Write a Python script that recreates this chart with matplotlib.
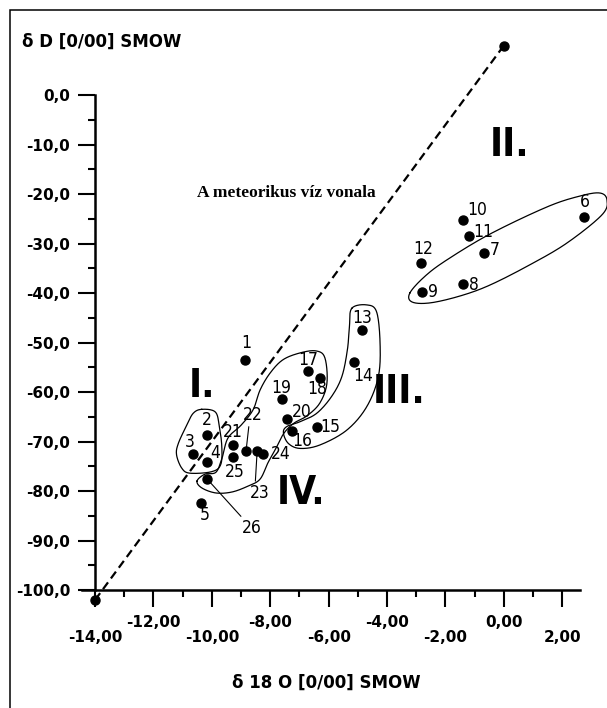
import numpy as np
import matplotlib.pyplot as plt
from matplotlib.ticker import FixedLocator

# sample data: delta 18O and delta D (per mil, SMOW)
sample_id = [str(i) for i in range(1, 27)]
d18o = [-8.86, -10.16, -10.65, -10.16, -10.37, 2.74, -0.68, -1.40, -2.80, -1.40,
        -1.20, -2.84, -4.86, -5.13, -6.40, -7.26, -6.71, -6.30, -7.60, -7.43,
        -9.28, -8.83, -8.45, -8.25, -9.28, -10.16]
dD = [-53.5, -68.7, -72.5, -74.1, -82.4, -24.6, -31.9, -38.2, -39.8, -25.3,
      -28.5, -33.9, -47.5, -53.9, -67.1, -67.9, -55.8, -57.2, -61.4, -65.5,
      -70.7, -71.9, -71.9, -72.5, -73.1, -77.6]

# meteoric water line end points
mwl_x = [-14.0, 0.0]
mwl_y = [-102.0, 10.0]

# hand drawn group outlines (d18O, dD)
group_I = [(-10.35, -63.5), (-9.89, -64.0), (-9.75, -66.7), (-9.66, -71.1), (-9.70, -74.7),
           (-10.01, -76.1), (-10.75, -76.4), (-11.03, -75.4), (-11.21, -72.7), (-11.15, -70.4),
           (-10.86, -66.7), (-10.64, -64.3)]
group_II = [(-3.22, -40.0), (-2.70, -36.6), (-1.95, -33.3), (-0.48, -28.1), (1.48, -22.6),
            (2.61, -20.4), (3.29, -19.8), (3.53, -21.2), (3.36, -24.2), (2.16, -29.9),
            (0.89, -34.3), (-0.48, -38.4), (-1.50, -40.6), (-2.53, -42.0), (-3.15, -41.8)]
group_III = [(-5.21, -43.1), (-4.70, -42.4), (-4.36, -43.8), (-4.24, -50.2), (-4.30, -56.9),
             (-4.70, -63.0), (-5.38, -67.7), (-6.30, -70.7), (-6.98, -71.4), (-7.38, -70.4),
             (-7.55, -68.3), (-7.44, -67.0), (-6.98, -66.0), (-6.41, -64.3), (-5.90, -60.9),
             (-5.55, -56.9), (-5.36, -51.5), (-5.29, -46.8)]
group_IV = [(-10.51, -78.0), (-10.34, -79.4), (-9.86, -80.4), (-9.31, -80.2), (-8.76, -79.0),
            (-8.35, -77.6), (-8.08, -74.3), (-7.80, -71.3), (-7.53, -68.3), (-7.19, -66.3),
            (-6.74, -64.8), (-6.30, -62.2), (-6.06, -58.2), (-6.13, -53.1), (-6.43, -51.7),
            (-6.98, -52.1), (-7.57, -53.5), (-8.01, -56.2), (-8.35, -59.6), (-8.59, -63.6),
            (-9.00, -66.7), (-9.45, -69.3), (-9.65, -73.3), (-9.86, -76.2), (-10.24, -76.6)]

group_names = ["I.", "II.", "III.", "IV."]
group_label_x = [-10.35, 0.21, -3.59, -6.96]
group_label_y = [-58.8, -10.1, -60.0, -80.5]

# label offsets in pixels (dx, dy)
offsets = {'1': (1, 17), '2': (0, 15), '3': (-3, 12), '4': (8, 9), '5': (4, -12),
           '6': (1, 15), '7': (11, 3), '8': (11, -1), '9': (11, 0), '10': (14, 10),
           '11': (14, 4), '12': (2, 14), '13': (0, 12), '14': (9, -14), '15': (13, 0),
           '16': (10, -10), '17': (0, 11), '18': (-3, -11), '19': (-1, 11), '20': (15, 7),
           '21': (0, 13), '22': (7, 36), '23': (3, -42), '24': (18, 0), '25': (2, -15),
           '26': (45, -49)}
leaders = {'22': (0.3, 0.0), '23': (0.25, 1.0), '26': (0.1, 0.95)}


def smooth_closed(pts, n=20):
    # closed Catmull-Rom curve through the outline vertices
    P = np.asarray(pts, dtype=float)
    m = len(P)
    t = np.linspace(0, 1, n, endpoint=False)[:, None]
    out = []
    for i in range(m):
        p0, p1, p2, p3 = P[i - 1], P[i], P[(i + 1) % m], P[(i + 2) % m]
        out.append(0.5 * (2 * p1 + (-p0 + p2) * t + (2 * p0 - 5 * p1 + 4 * p2 - p3) * t ** 2
                          + (-p0 + 3 * p1 - 3 * p2 + p3) * t ** 3))
    out = np.vstack(out)
    return np.vstack([out, out[:1]])


fig = plt.figure(figsize=(6.07, 7.08), dpi=100)
ax = fig.add_axes([0.1326, 0.1387, 0.8659, 0.8110])
ax.set_xlim(-14.5, 3.5)
ax.set_ylim(-104, 12)

# frame round the figure (only left and top edges fall inside the picture)
fig.patches.append(plt.Rectangle((10 / 607, -0.5), 2.0, 1.5 - 10 / 708, fill=False,
                                 lw=1.1, color='black', transform=fig.transFigure))

for s in ['top', 'right']:
    ax.spines[s].set_visible(False)
ax.spines['left'].set_position(('data', -14))
ax.spines['bottom'].set_position(('data', -100))
ax.spines['left'].set_bounds(-100, 0)
ax.spines['bottom'].set_bounds(-14.45, 2.6)
ax.spines['left'].set_linewidth(1.8)
ax.spines['bottom'].set_linewidth(1.8)

yt = np.arange(-100, 1, 10)
ax.set_yticks(yt)
ax.set_yticklabels([f"{v:.1f}".replace('.', ',') for v in yt], fontweight='bold', fontsize=11)
ax.yaxis.set_minor_locator(FixedLocator(np.arange(-95, 0, 10)))

xt = np.arange(-14, 3, 2)
ax.set_xticks(xt)
ax.set_xticklabels([("\n" if i % 2 == 0 else "") + f"{v:.2f}".replace('.', ',')
                    for i, v in enumerate(xt)], fontweight='bold', fontsize=11,
                   linespacing=1.0)
ax.xaxis.set_minor_locator(FixedLocator(np.arange(-13, 2, 2)))
ax.tick_params(which='major', direction='out', length=12, width=1.5, pad=6)
ax.tick_params(which='minor', direction='out', length=5, width=1.5)

# meteoric water line
ax.plot(mwl_x, mwl_y, color='black', lw=1.6, ls=(0, (3.8, 2.2)))
ax.plot(mwl_x, mwl_y, 'o', color='black', ms=6.5, clip_on=False)
ax.text(-10.51, -19.8, "A meteorikus víz vonala", family='Liberation Serif',
        fontweight='bold', fontsize=12.5, va='center', ha='left')

# outlines
for g in [group_I, group_II, group_III, group_IV]:
    c = smooth_closed(g)
    ax.plot(c[:, 0], c[:, 1], color='black', lw=0.9, clip_on=False)

ax.plot(d18o, dD, 'o', color='black', ms=6.5, clip_on=False)

for sid, x, y in zip(sample_id, d18o, dD):
    dx, dy = offsets[sid]
    kw = {}
    if sid in leaders:
        kw['arrowprops'] = dict(arrowstyle='-', lw=0.8, color='black', shrinkA=0, shrinkB=3,
                                relpos=leaders[sid])
    ax.annotate(sid, (x, y), xytext=(dx, dy), textcoords='offset pixels',
                ha='center', va='center', fontsize=12.5, family='DejaVu Sans',
                fontstretch='condensed', **kw)

for name, x, y in zip(group_names, group_label_x, group_label_y):
    ax.text(x, y, name, ha='center', va='center', fontsize=28, fontweight='bold',
            family='DejaVu Sans', fontstretch='condensed')

fig.text(22 / 607, 1 - 42 / 708, "δ D [0/00] SMOW", fontsize=12, fontweight='bold',
         ha='left', va='center')
fig.text(326 / 607, 1 - 683 / 708, "δ 18 O [0/00] SMOW", fontsize=12, fontweight='bold',
         ha='center', va='center')

fig.savefig("out.png", dpi=100)
